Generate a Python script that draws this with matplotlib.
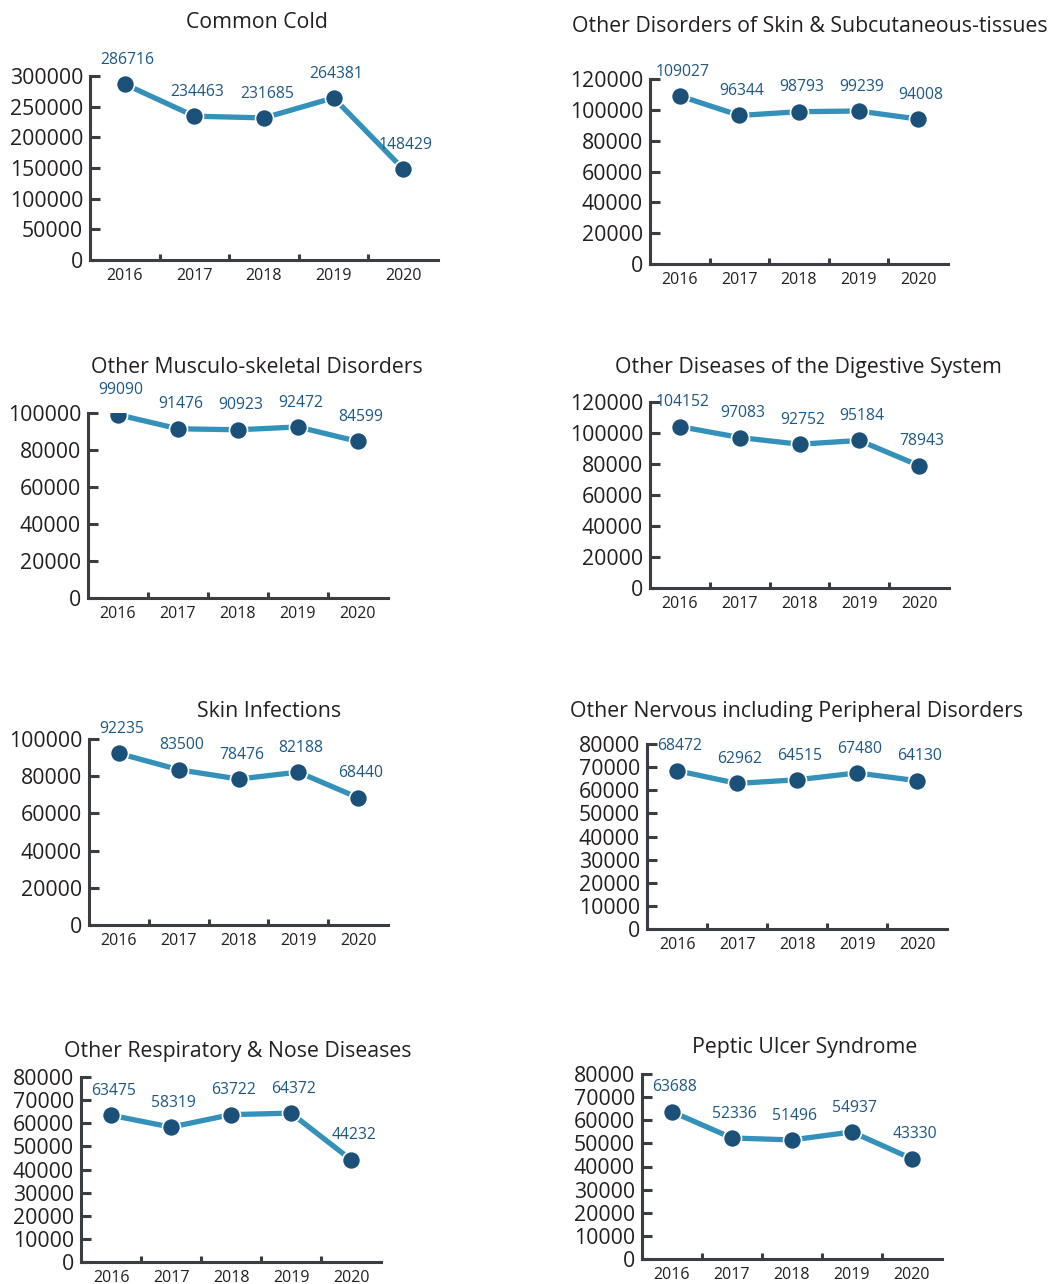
import matplotlib
matplotlib.use("Agg")
import matplotlib.pyplot as plt
from matplotlib.ticker import MultipleLocator, FixedLocator, NullFormatter

plt.rcParams["font.family"] = ["Open Sans", "DejaVu Sans"]

# --- data ---
years = ["2016", "2017", "2018", "2019", "2020"]

titles = [
    "Common Cold",
    "Other Disorders of Skin & Subcutaneous-tissues",
    "Other Musculo-skeletal Disorders",
    "Other Diseases of the Digestive System",
    "Skin Infections",
    "Other Nervous including Peripheral Disorders",
    "Other Respiratory & Nose Diseases",
    "Peptic Ulcer Syndrome",
]

common_cold = [286716, 234463, 231685, 264381, 148429]
skin_subcut = [109027, 96344, 98793, 99239, 94008]
musculo = [99090, 91476, 90923, 92472, 84599]
digestive = [104152, 97083, 92752, 95184, 78943]
skin_inf = [92235, 83500, 78476, 82188, 68440]
nervous = [68472, 62962, 64515, 67480, 64130]
respiratory = [63475, 58319, 63722, 64372, 44232]
peptic = [63688, 52336, 51496, 54937, 43330]

series = [common_cold, skin_subcut, musculo, digestive,
          skin_inf, nervous, respiratory, peptic]
y_max = [300000, 120000, 100000, 120000, 100000, 80000, 80000, 80000]
y_step = [50000, 20000, 20000, 20000, 20000, 10000, 10000, 10000]

# axes boxes in pixels: left, right, top, bottom ; title centre x, y
W, H = 1050, 1284
boxes = [
    (90, 438, 76, 260, 257, 23),
    (650, 948, 79, 264, 810, 26),
    (88, 388, 413, 598, 257, 367),
    (650, 949, 402, 588, 808, 367),
    (89, 388, 739, 925, 269, 712),
    (647, 947, 744, 929, 797, 712),
    (81, 381, 1077, 1262, 238, 1051),
    (642, 942, 1074, 1259, 805, 1047),
]

LINE = "#3391ba"
DOT = "#1b5079"
LABEL = "#1d5885"
AXIS = "#3a3d42"
TEXT = "#231f20"

fig = plt.figure(figsize=(W / 100, H / 100), dpi=100)

for i, (l, r, t, b, tx, ty) in enumerate(boxes):
    ax = fig.add_axes([l / W, 1 - b / H, (r - l) / W, (b - t) / H])
    vals = series[i]
    xs = range(len(years))
    ax.plot(xs, vals, color=LINE, lw=3.8, zorder=2, solid_capstyle="butt")
    ax.plot(xs, vals, "o", ms=13, color=DOT, mec="white", mew=1.2, zorder=3)
    for x, v in zip(xs, vals):
        ax.annotate(str(v), (x, v), xytext=(2, 17.5), textcoords="offset points",
                    ha="center", va="center", fontsize=11.3, color=LABEL,
                    annotation_clip=False)

    ax.set_xlim(-0.5, len(years) - 0.5)
    ax.set_ylim(0, y_max[i])
    ax.yaxis.set_major_locator(MultipleLocator(y_step[i]))
    ax.set_xticks(list(xs))
    ax.set_xticklabels(years)
    ax.xaxis.set_minor_locator(FixedLocator([k + 0.5 for k in range(len(years) - 1)]))
    ax.xaxis.set_minor_formatter(NullFormatter())

    for s in ["top", "right"]:
        ax.spines[s].set_visible(False)
    for s in ["left", "bottom"]:
        ax.spines[s].set_color(AXIS)
        ax.spines[s].set_linewidth(2.2)
    ax.tick_params(axis="y", direction="in", length=7, width=2.2, color=AXIS,
                   labelsize=15.3, labelcolor=TEXT, pad=5)
    ax.tick_params(axis="x", which="major", length=0, labelsize=11.5,
                   labelcolor=TEXT, pad=5.5)
    ax.tick_params(axis="x", which="minor", direction="in", length=4, width=2.2,
                   color=AXIS)
    ax.patch.set_alpha(0)

    fig.text(tx / W, 1 - ty / H, titles[i], ha="center", va="center",
             fontsize=15.3, color=TEXT)

fig.savefig("out.png", dpi=100)
